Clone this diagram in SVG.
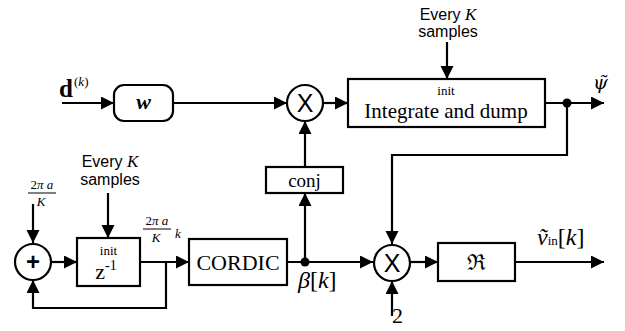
<svg xmlns="http://www.w3.org/2000/svg" width="625" height="331" viewBox="0 0 625 331">
<style>
.box{fill:#fff;stroke:#000;stroke-width:2.2}
.ln{fill:none;stroke:#000;stroke-width:2.2}
.arr{marker-end:url(#ah)}
.sans{font-family:"Liberation Sans","DejaVu Sans",sans-serif}
.serif{font-family:"Liberation Serif","DejaVu Serif",serif}
.it{font-style:italic}
</style>
<defs>
<marker id="ah" markerUnits="userSpaceOnUse" markerWidth="14" markerHeight="14" refX="13" refY="6.5" orient="auto">
<path d="M0,0 L13,6.5 L0,13 z" fill="#000"/>
</marker>
</defs>
<rect width="625" height="331" fill="#fff"/>

<g id="connectors">
<path class="ln arr" d="M62,103 H114"/>
<path class="ln arr" d="M173,103 H287"/>
<path class="ln arr" d="M323,103 H348"/>
<path class="ln arr" d="M545,103 H604"/>
<path class="ln arr" d="M567,103 V155 H392 V244"/>
<path class="ln arr" d="M447,42 V79"/>
<path class="ln arr" d="M305,167 V121"/>
<path class="ln arr" d="M305,262 V193"/>
<path class="ln arr" d="M287,262 H373"/>
<path class="ln arr" d="M410,262 H438"/>
<path class="ln arr" d="M515,262 H604"/>
<path class="ln arr" d="M392,316 V281"/>
<path class="ln arr" d="M33,204 V243"/>
<path class="ln arr" d="M51,262 H77"/>
<path class="ln arr" d="M108,193 V238"/>
<path class="ln arr" d="M140,262 H189"/>
<path class="ln arr" d="M166,262 V308 H33 V280"/>
<circle cx="567" cy="103" r="4.5" fill="#000"/>
<circle cx="305" cy="262" r="4.5" fill="#000"/>
</g>

<g id="input-d">
<text x="59" y="97" class="serif" font-size="25" font-weight="bold">d</text>
<text x="74" y="86" class="serif" font-size="13">(<tspan class="it">k</tspan>)</text>
</g>

<g id="w">
<rect class="box" x="114" y="85" width="59" height="36" rx="10"/>
<text x="143.5" y="109" class="serif it" font-size="22" font-weight="bold" text-anchor="middle">w</text>
</g>

<g id="mult1">
<circle class="box" cx="305" cy="103" r="18"/>
<text x="305" y="112" class="sans" font-size="25" text-anchor="middle">X</text>
</g>

<g id="every-top">
<text x="448" y="20" class="sans" font-size="16" text-anchor="middle">Every <tspan class="serif it" font-size="17">K</tspan></text>
<text x="448" y="37" class="sans" font-size="16" text-anchor="middle">samples</text>
</g>

<g id="integrate">
<rect class="box" x="348" y="79" width="197" height="48"/>
<text x="446" y="95" class="serif" font-size="13" text-anchor="middle">init</text>
<text x="446" y="118" class="serif" font-size="21" text-anchor="middle">Integrate and dump</text>
</g>

<g id="psi">
<text x="593" y="89" font-family="DejaVu Serif,serif" font-style="italic" font-size="19">ψ̃</text>
</g>

<g id="conj">
<rect class="box" x="266" y="167" width="77" height="26"/>
<text x="304.5" y="187" class="serif" font-size="19" text-anchor="middle">conj</text>
</g>

<g id="frac1">
<text x="42" y="189" class="serif it" font-size="13" text-anchor="middle"><tspan font-style="normal">2</tspan>π a</text>
<line x1="28" y1="193" x2="56" y2="193" stroke="#000" stroke-width="1"/>
<text x="41" y="206" class="serif it" font-size="13" text-anchor="middle">K</text>
</g>

<g id="plus">
<circle class="box" cx="33" cy="262" r="18"/>
<text x="33" y="270" class="sans" font-size="24" font-weight="bold" text-anchor="middle">+</text>
</g>

<g id="every-left">
<text x="110" y="167" class="sans" font-size="16" text-anchor="middle">Every <tspan class="serif it" font-size="17">K</tspan></text>
<text x="110" y="185" class="sans" font-size="16" text-anchor="middle">samples</text>
</g>

<g id="zdelay">
<rect class="box" x="77" y="238" width="63" height="48"/>
<text x="108.5" y="255" class="serif" font-size="13" text-anchor="middle">init</text>
<text x="106" y="279" class="serif" font-size="22" text-anchor="middle">z<tspan font-size="14" dy="-9">-1</tspan></text>
</g>

<g id="frac2">
<text x="157" y="225" class="serif it" font-size="13" text-anchor="middle"><tspan font-style="normal">2</tspan>π a</text>
<line x1="143" y1="229" x2="171" y2="229" stroke="#000" stroke-width="1"/>
<text x="156" y="242" class="serif it" font-size="13" text-anchor="middle">K</text>
<text x="175" y="238" class="serif it" font-size="13">k</text>
</g>

<g id="cordic">
<rect class="box" x="189" y="239" width="98" height="46"/>
<text x="238" y="270" class="serif" font-size="22" text-anchor="middle">CORDIC</text>
</g>

<g id="beta">
<text x="298" y="288" class="serif" font-size="24"><tspan class="it">β</tspan>[<tspan class="it">k</tspan>]</text>
</g>

<g id="mult2">
<circle class="box" cx="392" cy="263" r="18"/>
<text x="392" y="272" class="sans" font-size="25" text-anchor="middle">X</text>
<text x="392" y="323" class="serif" font-size="22">2</text>
</g>

<g id="real">
<rect class="box" x="438" y="243" width="77" height="38"/>
<text x="476" y="270" font-family="DejaVu Serif,serif" font-size="22" text-anchor="middle">ℜ</text>
</g>

<g id="vout">
<text x="537" y="245" class="serif" font-size="24"><tspan class="it">ṽ</tspan><tspan font-size="13">in</tspan>[<tspan class="it">k</tspan>]</text>
</g>
</svg>
